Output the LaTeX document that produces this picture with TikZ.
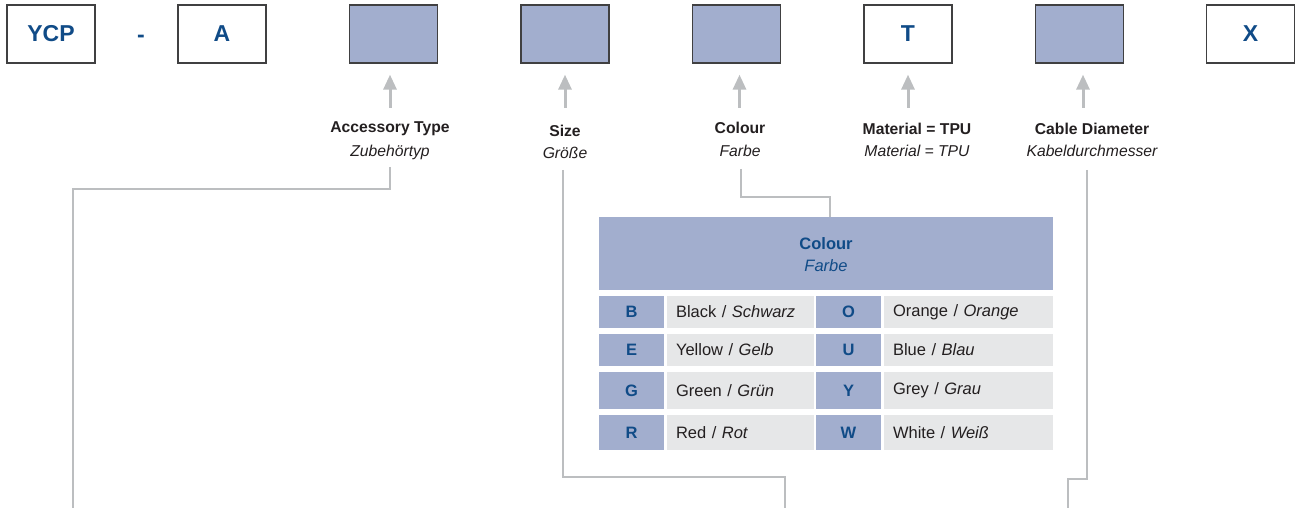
\documentclass[tikz,border=0pt]{standalone}
\usepackage{fontspec}
\setmainfont{Liberation Sans}
\usetikzlibrary{arrows.meta,calc}
\definecolor{navy}{RGB}{16,75,135}
\definecolor{lav}{RGB}{162,174,206}
\definecolor{lgrey}{RGB}{230,231,232}
\definecolor{lineg}{RGB}{188,190,192}
\definecolor{txt}{RGB}{35,31,32}
\definecolor{bord}{RGB}{64,64,65}
\begin{document}
\begin{tikzpicture}[x=1pt,y=-1pt,
  codebox/.style={draw=bord,line width=1.3pt,minimum width=88pt,minimum height=58pt,inner sep=0pt,font=\fontsize{23}{26}\selectfont\bfseries,text=navy},
  blank/.style={codebox,fill=lav},
  lab/.style={font=\fontsize{15.7}{18}\selectfont\bfseries,text=txt,inner sep=0pt},
  labit/.style={font=\fontsize{15.7}{18}\selectfont\itshape,text=txt,inner sep=0pt},
  arr/.style={draw=lineg,line width=3pt,-{Triangle[length=15pt,width=13pt]}},
  conn/.style={draw=lineg,line width=2.9pt},
  code/.style={fill=lav,minimum width=65pt,inner sep=0pt,font=\fontsize{16.5}{19}\selectfont\bfseries,text=navy},
  desc/.style={fill=lgrey,inner xsep=9pt,inner ysep=0pt,align=left,font=\fontsize{16.5}{19}\selectfont,text=txt},
  descA/.style={desc,text width=129pt},
  descB/.style={desc,text width=151pt},
  r1/.style={minimum height=32pt},
  r2/.style={minimum height=32pt},
  r3/.style={minimum height=37pt},
  r4/.style={minimum height=35pt}]
\useasboundingbox (0,0) rectangle (1296,508);

% top code boxes
\node[codebox] (ycp) at (51,34) {YCP};
\node[font=\fontsize{23}{26}\selectfont\bfseries,text=navy,inner sep=0pt] (dash) at (141,39) {-};
\node[codebox] (ba) at (222,34) {A};
\node[blank] (b3) at (393.5,34) {};
\node[blank] (b4) at (565,34) {};
\node[blank] (b5) at (736.5,34) {};
\node[codebox] (bt) at (908,34) {T};
\node[blank] (b7) at (1079.5,34) {};
\node[codebox] (bx) at (1250.5,34) {X};

% labels
\node[lab] (acc) at (390,129) {Accessory Type};
\node[labit] (accit) at (390,152) {Zubehörtyp};
\node[lab] (size) at (565,131) {Size};
\node[labit] (sizeit) at (565,153) {Größe};
\node[lab] (col) at (740,128) {Colour};
\node[labit] (colit) at (740,151) {Farbe};
\node[lab] (mat) at (917,129) {Material = TPU};
\node[labit] (matit) at (917,151) {Material = TPU};
\node[lab] (cab) at (1092,129) {Cable Diameter};
\node[labit] (cabit) at (1092,151) {Kabeldurchmesser};

% arrows up to boxes
\draw[arr] ([yshift=-44pt]b3.south -| acc) -- ([yshift=-11pt]b3.south -| acc);
\draw[arr] ([yshift=-44pt]b4.south) -- ([yshift=-11pt]b4.south);
\draw[arr] ([yshift=-44pt,xshift=3pt]b5.south) -- ([yshift=-11pt,xshift=3pt]b5.south);
\draw[arr] ([yshift=-44pt]bt.south) -- ([yshift=-11pt]bt.south);
\draw[arr] ([yshift=-44pt,xshift=3.5pt]b7.south) -- ([yshift=-11pt,xshift=3.5pt]b7.south);

% colour table
\node[fill=lav,minimum width=454pt,minimum height=73pt,inner sep=0pt] (hdr) at (826,253.5) {};
\node[font=\fontsize{16.5}{19}\selectfont\bfseries,text=navy,inner sep=0pt] (hdrt) at (826,244) {Colour};
\node[font=\fontsize{16.5}{19}\selectfont\itshape,text=navy,inner sep=0pt] (hdrs) at (826,266) {Farbe};

\node[code,r1] (cB) at (631.5,312) {B};
\node[descA,r1] (dB) at (740.5,312) {Black / \textit{Schwarz}};
\node[code,r1] (cO) at (848.5,312) {O};
\node[descB,r1] (dO) at (968.5,312) {Orange / \textit{Orange}};

\node[code,r2] (cE) at (631.5,350) {E};
\node[descA,r2] (dE) at (740.5,350) {Yellow / \textit{Gelb}};
\node[code,r2] (cU) at (848.5,350) {U};
\node[descB,r2] (dU) at (968.5,350) {Blue / \textit{Blau}};

\node[code,r3] (cG) at (631.5,390.5) {G};
\node[descA,r3] (dG) at (740.5,390.5) {Green / \textit{Grün}};
\node[code,r3] (cY) at (848.5,390.5) {Y};
\node[descB,r3] (dY) at (968.5,390.5) {Grey / \textit{Grau}};

\node[code,r4] (cR) at (631.5,432.5) {R};
\node[descA,r4] (dR) at (740.5,432.5) {Red / \textit{Rot}};
\node[code,r4] (cW) at (848.5,432.5) {W};
\node[descB,r4] (dW) at (968.5,432.5) {White / \textit{Weiß}};

% connector coordinates
\coordinate (s1) at (390,167);
\coordinate (e1) at (73,508);
\coordinate (s2) at (563,170);
\coordinate (e2) at (785,508);
\coordinate (s3) at (741,169);
\coordinate (s4) at (1087,170);
\coordinate (e4) at (1068,508);

\draw[conn] (s1) -- (s1 |- 0,189) -| (e1);
\draw[conn] (s2) -- (s2 |- 0,477) -| (e2);
\draw[conn] (s3) -- (s3 |- 0,197) -| ([xshift=4pt]hdr.north);
\draw[conn] (s4) -- (s4 |- 0,479) -| (e4);
\end{tikzpicture}
\end{document}
